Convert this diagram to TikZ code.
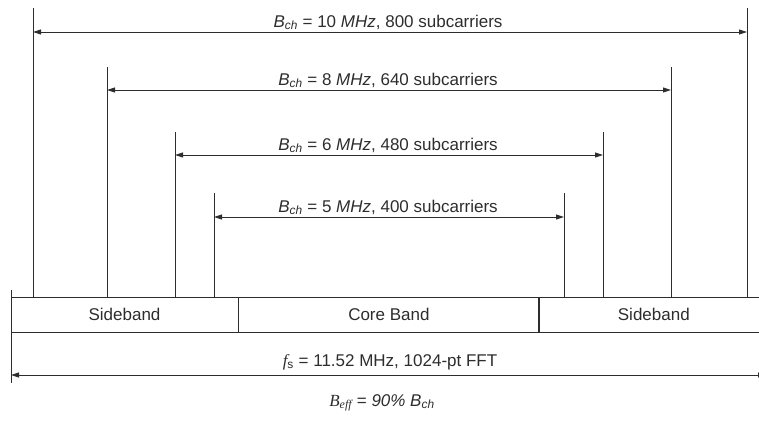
\documentclass[tikz,border=0pt]{standalone}
\usepackage{fontspec}
\setmainfont{Liberation Sans}
\newfontfamily\serifit{Liberation Serif}
\usetikzlibrary{arrows.meta,positioning}
\definecolor{ink}{RGB}{45,45,45}
\newcommand{\Bch}{\textit{B}\textsubscript{\textit{ch}}}
\tikzset{
  >={Triangle[length=8pt,width=5pt]},
  band/.style={draw=ink,line width=0.9pt,minimum height=35pt,inner sep=0pt,
    font=\fontsize{17}{20}\selectfont,text=ink},
  span/.style={<->,draw=ink,line width=0.9pt},
  edge line/.style={draw=ink,line width=0.9pt},
  lbl/.style={font=\fontsize{17}{20}\selectfont,text=ink,anchor=base},
}
\begin{document}
\begin{tikzpicture}[x=1pt,y=-1pt]
  \useasboundingbox (0,0) rectangle (759,421);
  % band split
  \node[band,minimum width=227pt] (sbl) at (124.5,314.5) {Sideband};
  \node[band,minimum width=300pt,right=0pt of sbl] (core) {Core Band};
  \node[band,minimum width=228pt,right=0pt of core] (sbr) {Sideband};

  % channel bandwidths
  \foreach \mhz/\sub/\xl/\xr/\ytop/\yar [count=\i] in
    {10/800/33/747/8/32, 8/640/107/671/67/90, 6/480/175/603/132/155, 5/400/214/564/193/217}{
    \coordinate (lt\i) at (\xl,\ytop);
    \coordinate (rt\i) at (\xr,\ytop);
    \coordinate (la\i) at (\xl,\yar);
    \coordinate (ra\i) at (\xr,\yar);
    \draw[edge line] (lt\i) -- (lt\i |- sbl.north);
    \draw[edge line] (rt\i) -- (rt\i |- sbl.north);
    \draw[span] (la\i) -- (ra\i);
    \node[lbl] (bw\i) at (388,\yar-5) {\Bch{} = \mhz{} \textit{MHz}, \sub{} subcarriers};
  }

  % sampling rate
  \coordinate (ft) at (11,290);
  \coordinate (fb) at (11,383);
  \coordinate (gt) at (766,290);
  \coordinate (gb) at (766,383);
  \coordinate (fa) at (11,375);
  \coordinate (ga) at (766,375);
  \draw[edge line] (ft) -- (fb);
  \draw[edge line] (gt) -- (gb);
  \draw[span] (fa) -- (ga);
  \node[lbl] (fs) at (390,366) {{\serifit\itshape f}\textsubscript{s} = 11.52 MHz, 1024-pt FFT};
  \node[lbl] (beff) at (382,406) {{\serifit\itshape B\textsubscript{eff}} = \textit{90\%} \Bch};
\end{tikzpicture}
\end{document}
